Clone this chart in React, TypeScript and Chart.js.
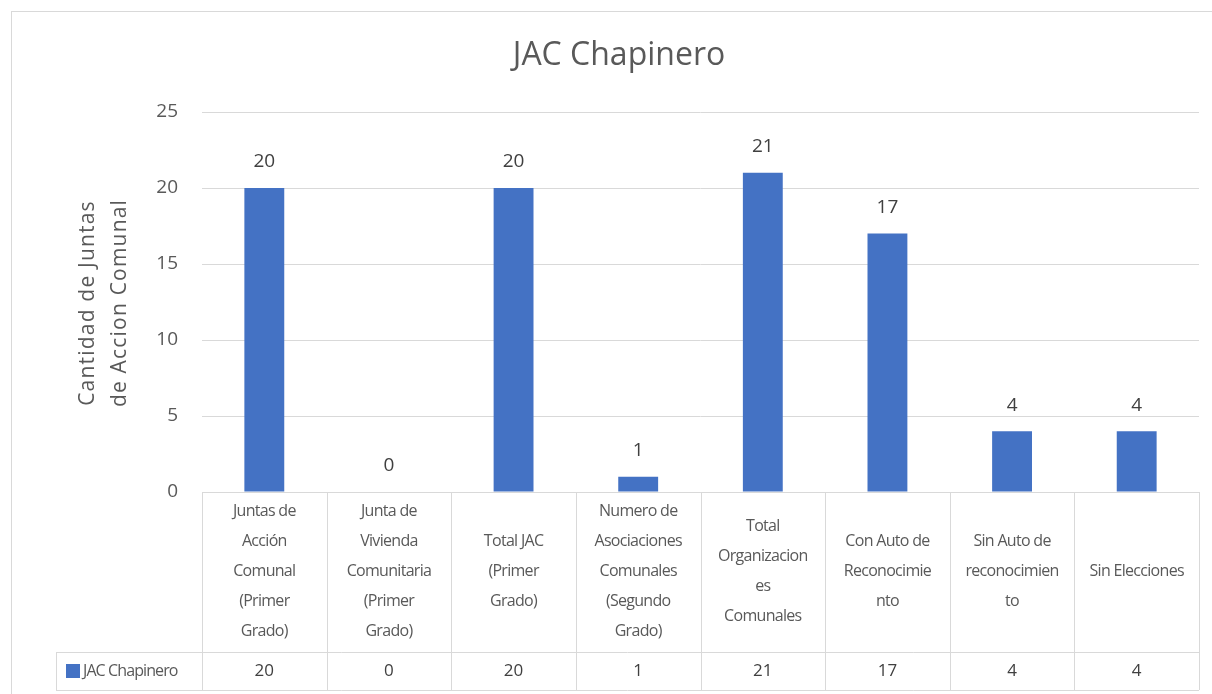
import React, { useEffect, useRef } from "react";
import { Chart, registerables } from "chart.js";

Chart.register(...registerables);

const chartTitle = "JAC Chapinero";
const seriesName = "JAC Chapinero";
const yAxisTitle = ["Cantidad de Juntas", "de Accion Comunal"];
const categories: string[][] = [
  ["Juntas de", "Acción", "Comunal", "(Primer", "Grado)"],
  ["Junta de", "Vivienda", "Comunitaria", "(Primer", "Grado)"],
  ["Total JAC", "(Primer", "Grado)"],
  ["Numero de", "Asociaciones", "Comunales", "(Segundo", "Grado)"],
  ["Total", "Organizacion", "es", "Comunales"],
  ["Con Auto de", "Reconocimie", "nto"],
  ["Sin Auto de", "reconocimien", "to"],
  ["Sin Elecciones"],
];
const values = [20, 0, 20, 1, 21, 17, 4, 4];
const yMin = 0;
const yMax = 25;
const yStep = 5;

const FONT = "'Open Sans', 'Noto Sans', sans-serif";
const BAR = "#4472C4";
const GRID = "#d9d9d9";
const TXT = "#595959";
const DARK = "#404040";

const tablePlugin = {
  id: "excelTable",
  afterDraw(chart: any) {
    const { ctx, chartArea, scales } = chart;
    const x = scales.x;
    const y = scales.y;
    const n = categories.length;
    const cw = (chartArea.right - chartArea.left) / n;
    const top = chartArea.bottom;
    const rowSplit = top + 160;
    const bottom = rowSplit + 38;
    const legendLeft = 56;
    const px = (v: number) => Math.round(v) + 0.5;

    ctx.save();
    // outer chart border
    ctx.strokeStyle = GRID;
    ctx.lineWidth = 1;
    ctx.strokeRect(11.5, 11.5, 1240, 720);

    // title
    ctx.fillStyle = TXT;
    ctx.font = `32px ${FONT}`;
    ctx.textAlign = "center";
    ctx.textBaseline = "middle";
    ctx.fillText(chartTitle, 619, 56);

    // y axis title
    ctx.save();
    ctx.translate(104, 303);
    ctx.rotate(-Math.PI / 2);
    ctx.font = `21px ${FONT}`;
    (ctx as any).letterSpacing = "1.2px";
    ctx.fillText(yAxisTitle[0], 0, -16);
    ctx.fillText(yAxisTitle[1], 0, 16);
    ctx.restore();
    (ctx as any).letterSpacing = "0px";

    // data labels
    ctx.fillStyle = DARK;
    ctx.font = `19px ${FONT}`;
    values.forEach((v, i) => {
      ctx.fillText(String(v), x.getPixelForValue(i), y.getPixelForValue(v) - 26);
    });

    // table lines
    ctx.strokeStyle = GRID;
    ctx.beginPath();
    ctx.moveTo(chartArea.left, px(top));
    ctx.lineTo(chartArea.right, px(top));
    ctx.moveTo(legendLeft, px(rowSplit));
    ctx.lineTo(chartArea.right, px(rowSplit));
    ctx.moveTo(legendLeft, px(bottom));
    ctx.lineTo(chartArea.right, px(bottom));
    ctx.moveTo(px(legendLeft), px(rowSplit));
    ctx.lineTo(px(legendLeft), px(bottom));
    for (let k = 0; k <= n; k++) {
      const bx = px(chartArea.left + k * cw);
      ctx.moveTo(bx, top);
      ctx.lineTo(bx, bottom);
    }
    ctx.stroke();

    // category labels
    ctx.fillStyle = TXT;
    ctx.font = `16px ${FONT}`;
    (ctx as any).letterSpacing = "-0.7px";
    const midY = (top + rowSplit) / 2 - 1;
    categories.forEach((lines, i) => {
      const cx = x.getPixelForValue(i);
      const lh = 30;
      const start = midY - ((lines.length - 1) * lh) / 2;
      lines.forEach((ln, j) => ctx.fillText(ln, cx, start + j * lh));
    });

    // values row
    const rowMid = (rowSplit + bottom) / 2;
    (ctx as any).letterSpacing = "0px";
    ctx.fillStyle = DARK;
    ctx.font = `17px ${FONT}`;
    values.forEach((v, i) => ctx.fillText(String(v), x.getPixelForValue(i), rowMid));

    // legend key
    ctx.fillStyle = BAR;
    ctx.fillRect(66, Math.round(rowMid) - 7, 14, 14);
    ctx.fillStyle = TXT;
    ctx.textAlign = "left";
    ctx.font = `16px ${FONT}`;
    (ctx as any).letterSpacing = "-0.9px";
    ctx.fillText(seriesName, 83, rowMid);
    ctx.restore();
  },
};

export default function App() {
  const ref = useRef<HTMLCanvasElement | null>(null);
  useEffect(() => {
    if (!ref.current) return;
    const chart = new Chart(ref.current, {
      type: "bar",
      data: {
        labels: categories,
        datasets: [
          {
            label: seriesName,
            data: values,
            backgroundColor: BAR,
            barPercentage: 0.32,
            categoryPercentage: 1,
          },
        ],
      },
      options: {
        responsive: false,
        animation: false,
        layout: { padding: { top: 112, bottom: 202, right: 13, left: 0 } },
        plugins: {
          legend: { display: false },
          title: { display: false },
          tooltip: { enabled: false },
        },
        scales: {
          x: { display: false },
          y: {
            min: yMin,
            max: yMax,
            ticks: {
              stepSize: yStep,
              padding: 24,
              color: TXT,
              font: { family: FONT, size: 19 },
            },
            grid: { color: GRID, drawTicks: false },
            border: { display: false },
            afterFit: (s: any) => {
              s.width = 202;
            },
          },
        },
      },
      plugins: [tablePlugin],
    });
    return () => chart.destroy();
  }, []);
  return (
    <div style={{ position: "fixed", left: 0, top: 0, width: 1212, height: 694, background: "#fff" }}>
      <canvas ref={ref} width={1212} height={694} style={{ display: "block" }} />
    </div>
  );
}
